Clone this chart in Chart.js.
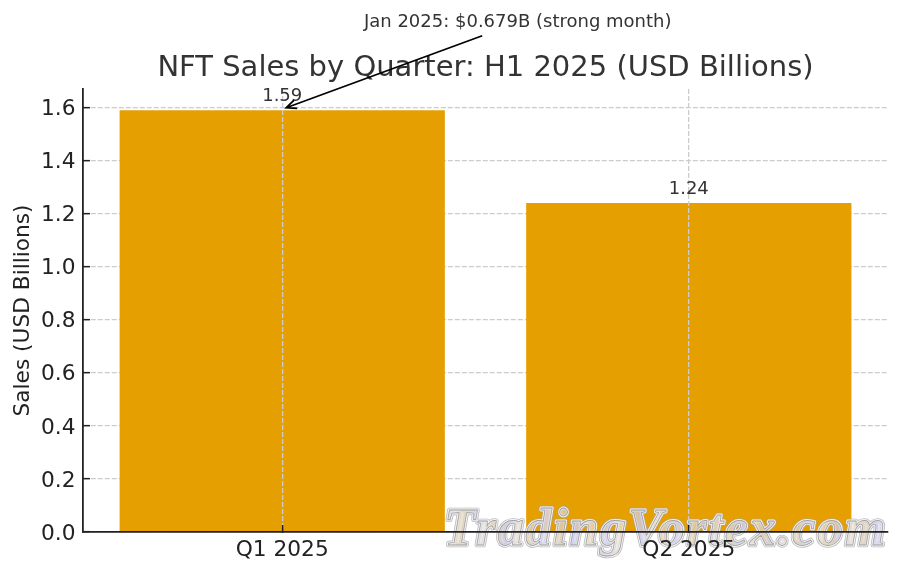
<!doctype html>
<html>
<head>
  <meta charset="utf-8">
  <title>NFT Sales by Quarter</title>
  <style>
    html, body { margin:0; padding:0; background:#fff; }
    canvas { display:block; }
  </style>
  <script src="https://cdn.jsdelivr.net/npm/chart.js"></script>
</head>
<body>
  <canvas id="salesChart" width="900" height="573"></canvas>

  <script>
    const quarters = ['Q1 2025', 'Q2 2025'];
    const sales = [1.59, 1.24];
    const yTicks = [0, 0.2, 0.4, 0.6, 0.8, 1.0, 1.2, 1.4, 1.6];
    const note = 'Jan 2025: $0.679B (strong month)';
    const watermark = 'TradingVortex.com';
    const marbleColors = ['#cfd0f5', '#efe6d6', '#e2d4bc', '#d3d4f6', '#eee8dc', '#dccbae'];

    const FONT = '"DejaVu Sans", sans-serif';
    const GRID = '#cccccc';

    const overlay = {
      id: 'overlay',
      // watermark sits under the x labels and axis line (those have z: 1)
      afterDatasetsDraw(chart) {
        const { ctx } = chart;
        ctx.save();
        ctx.font = 'italic bold 52px "Liberation Serif", serif';
        ctx.letterSpacing = '1.8px';
        ctx.textAlign = 'left';
        ctx.textBaseline = 'alphabetic';
        ctx.lineJoin = 'round';
        const wx = 444, wy = 545;
        ctx.strokeStyle = 'rgba(165,165,170,0.75)';
        ctx.lineWidth = 4.5;
        ctx.strokeText(watermark, wx, wy);
        ctx.strokeStyle = 'rgba(255,255,255,0.85)';
        ctx.lineWidth = 2.8;
        ctx.strokeText(watermark, wx, wy);
        // mottled fill
        const g = ctx.createLinearGradient(wx, wy - 40, wx + 440, wy + 10);
        const steps = 40;
        for (let i = 0; i <= steps; i++) {
          g.addColorStop(i / steps, marbleColors[i % marbleColors.length]);
        }
        ctx.globalAlpha = 0.75;
        ctx.fillStyle = g;
        ctx.fillText(watermark, wx, wy);
        ctx.globalAlpha = 1;
        ctx.strokeStyle = 'rgba(140,140,145,0.8)';
        ctx.lineWidth = 0.8;
        ctx.strokeText(watermark, wx, wy);
        ctx.restore();
      },
      // value labels and the arrow note
      afterDraw(chart) {
        const { ctx, scales: { x, y } } = chart;
        ctx.save();

        ctx.font = '18px ' + FONT;
        ctx.fillStyle = '#333';
        ctx.textAlign = 'center';
        ctx.textBaseline = 'middle';
        sales.forEach((v, i) => ctx.fillText(v.toFixed(2), x.getPixelForValue(i), y.getPixelForValue(v) - 14));

        ctx.fillText(note, x.getPixelForValue(0) + 235.5, 22);

        const tipX = x.getPixelForValue(0) + 4;
        const tipY = y.getPixelForValue(sales[0]) - 2.5;
        const fromX = tipX + 196;
        const fromY = tipY - 72;
        const a = Math.atan2(fromY - tipY, fromX - tipX);
        ctx.strokeStyle = '#000';
        ctx.lineWidth = 1.8;
        ctx.beginPath();
        ctx.moveTo(fromX, fromY);
        ctx.lineTo(tipX, tipY);
        ctx.moveTo(tipX + 11 * Math.cos(a - 0.42), tipY + 11 * Math.sin(a - 0.42));
        ctx.lineTo(tipX, tipY);
        ctx.lineTo(tipX + 11 * Math.cos(a + 0.42), tipY + 11 * Math.sin(a + 0.42));
        ctx.stroke();

        ctx.restore();
      }
    };

    new Chart(document.getElementById('salesChart'), {
      type: 'bar',
      data: {
        datasets: [{
          data: sales.map((v, i) => ({ x: i, y: v })),
          backgroundColor: '#E69F00',
          categoryPercentage: 1,
          barPercentage: 0.8
        }]
      },
      options: {
        responsive: false,
        animation: false,
        layout: { padding: { right: 12 } },
        plugins: {
          legend: { display: false },
          tooltip: { enabled: false },
          title: {
            display: true,
            fullSize: false,
            text: 'NFT Sales by Quarter: H1 2025 (USD Billions)',
            color: '#333',
            font: { family: FONT, size: 29, weight: 'normal' },
            padding: { top: 51, bottom: 3.2 }
          }
        },
        scales: {
          x: {
            type: 'linear',
            offset: false,
            min: -0.49,
            max: 1.49,
            afterBuildTicks: s => { s.ticks = quarters.map((_, i) => ({ value: i })); },
            afterFit: s => { s.height = 41; },
            ticks: {
              z: 1,
              callback: v => quarters[v],
              color: '#222',
              font: { family: FONT, size: 21.7 },
              padding: 12,
              maxRotation: 0
            },
            grid: { z: 1, offset: false, color: GRID, lineWidth: 1.3, tickColor: '#222', tickLength: -7, tickWidth: 1.5 },
            border: { z: 1, color: '#222', width: 1.8, dash: [5, 2] }
          },
          y: {
            min: 0,
            max: 1.67,
            afterBuildTicks: s => { s.ticks = yTicks.map(v => ({ value: v })); },
            afterFit: s => { s.width = 83; },
            ticks: {
              callback: v => v.toFixed(1),
              color: '#222',
              font: { family: FONT, size: 21.7 },
              padding: 14.5,
              labelOffset: 2
            },
            // horizontal grid stays behind the bars
            grid: { z: -1, color: GRID, lineWidth: 1.3, tickColor: '#222', tickLength: -7, tickWidth: 1.5 },
            border: { z: 1, color: '#222', width: 1.8, dash: [5, 2] },
            title: {
              display: true,
              text: 'Sales (USD Billions)',
              color: '#222',
              font: { family: FONT, size: 21.7 },
              padding: { top: 10, bottom: 0 }
            }
          }
        }
      },
      plugins: [overlay]
    });
  </script>
</body>
</html>
